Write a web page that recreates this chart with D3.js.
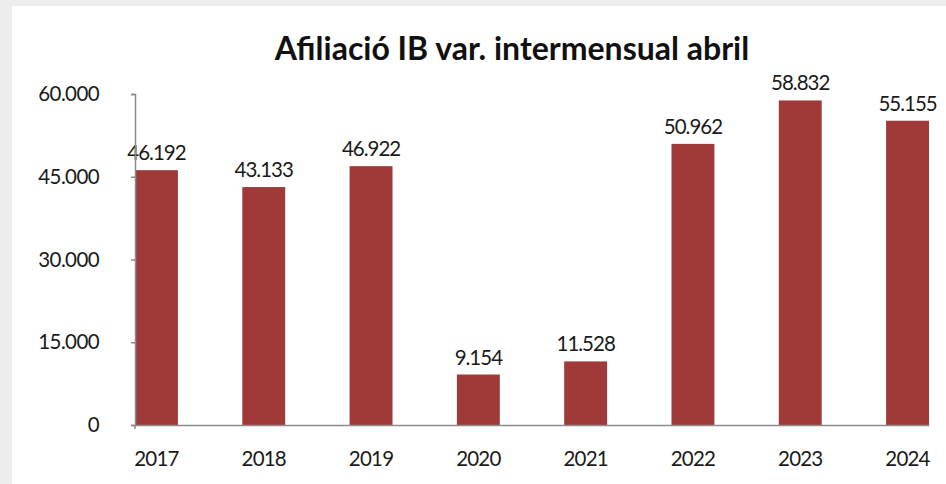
<!DOCTYPE html>
<html>
<head>
<meta charset="utf-8">
<script src="https://cdn.jsdelivr.net/npm/d3@7"></script>
<style>
  html, body { margin: 0; padding: 0; background: #fff; }
  svg { display: block; }
</style>
</head>
<body>
<svg id="chart"></svg>
<script>
// Afiliació IB — variació intermensual abril, bar chart
const YEARS = ['2017', '2018', '2019', '2020', '2021', '2022', '2023', '2024'];
const VALUES = [46192, 43133, 46922, 9154, 11528, 50962, 58832, 55155];
const Y_TICKS = [0, 15000, 30000, 45000, 60000];
const TITLE = 'Afiliació IB var. intermensual abril';

const W = 946, H = 484;
const BAR = '#9f3a39';
const AXIS = '#8c8c8c';
const FONT = 'Lato, "Open Sans", sans-serif';

// thousands separator as in Catalan: 46.192
const fmt = d3.formatLocale({ decimal: ',', thousands: '.', grouping: [3], currency: ['', '€'] }).format(',d');

const svg = d3.select('#chart').attr('width', W).attr('height', H);

// grey frame on left and top
svg.append('rect').attr('x', 0).attr('y', 0).attr('width', 12).attr('height', H).attr('fill', '#ededed');
svg.append('rect').attr('x', 0).attr('y', 0).attr('width', W).attr('height', 6).attr('fill', '#ededed');

const x = d3.scaleBand().domain(YEARS).range([135, 929]).paddingInner(0.6).paddingOuter(0);
const y = d3.scaleLinear().domain([0, 60000]).range([425, 94]);

// title
svg.append('text')
    .attr('x', 512).attr('y', 60)
    .attr('text-anchor', 'middle')
    .attr('font-family', FONT).attr('font-weight', 'bold').attr('font-size', '32px')
    .attr('fill', '#111')
    .text(TITLE);

// bars
svg.selectAll('.bar')
    .data(VALUES)
    .join('rect')
    .attr('class', 'bar')
    .attr('x', (d, i) => x(YEARS[i]))
    .attr('y', d => y(d))
    .attr('width', x.bandwidth())
    .attr('height', d => y(0) - y(d))
    .attr('fill', BAR);

// value labels
svg.selectAll('.val')
    .data(VALUES)
    .join('text')
    .attr('class', 'val')
    .attr('x', (d, i) => x(YEARS[i]) + x.bandwidth() / 2)
    .attr('y', d => y(d) - 10)
    .attr('text-anchor', 'middle')
    .attr('font-family', FONT).attr('font-size', '20.5px')
    .attr('letter-spacing', '-1px')
    .attr('fill', '#1a1a1a')
    .text(d => fmt(d));

// y axis
const yAxis = svg.append('g')
    .attr('transform', 'translate(135,0)')
    .call(d3.axisLeft(y).tickValues(Y_TICKS).tickSize(4).tickPadding(32).tickFormat(fmt));
yAxis.select('.domain').attr('stroke', AXIS).attr('stroke-width', 1.5);
yAxis.selectAll('.tick line').attr('stroke', AXIS).attr('stroke-width', 1.5);
yAxis.selectAll('.tick text')
    .attr('font-family', FONT).attr('font-size', '20.5px')
    .attr('letter-spacing', '-0.6px')
    .attr('fill', '#1a1a1a');

// x axis
const xAxis = svg.append('g')
    .attr('transform', `translate(0,${y(0)})`)
    .call(d3.axisBottom(x).tickSize(0).tickPadding(26));
xAxis.select('.domain').attr('stroke', AXIS).attr('stroke-width', 1.5);
xAxis.selectAll('.tick text')
    .attr('font-family', FONT).attr('font-size', '20.5px')
    .attr('letter-spacing', '-0.8px')
    .attr('fill', '#1a1a1a');
// small tick at the origin
svg.append('line')
    .attr('x1', 135).attr('x2', 135)
    .attr('y1', y(0)).attr('y2', y(0) + 4)
    .attr('stroke', AXIS).attr('stroke-width', 1.5);
</script>
</body>
</html>
